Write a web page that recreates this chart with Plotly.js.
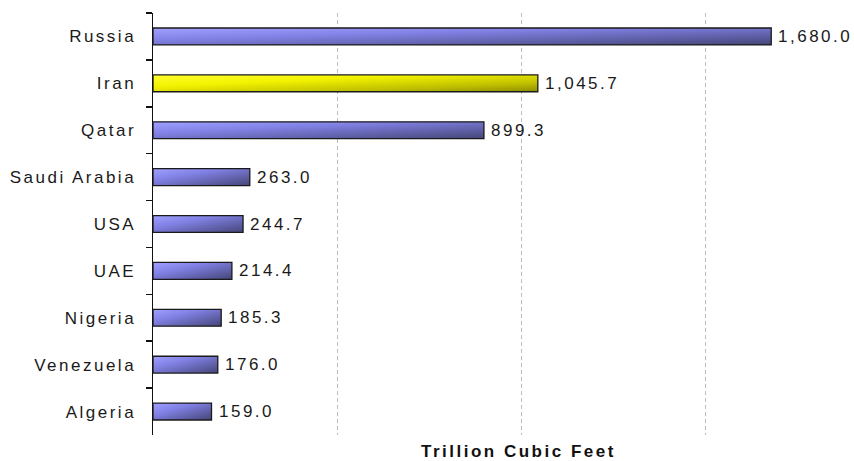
<!DOCTYPE html>
<html>
<head>
<meta charset="utf-8">
<script src="https://cdn.plot.ly/plotly-3.0.1.min.js"></script>
<style>
html,body{margin:0;padding:0;background:#fff;}
#chart{width:854px;height:461px;}
text{letter-spacing:2.5px;}
</style>
</head>
<body>
<div id="chart"></div>
<script>
// Data
const countries = ["Russia", "Iran", "Qatar", "Saudi Arabia", "USA", "UAE", "Nigeria", "Venezuela", "Algeria"];
const reserves = [1680.0, 1045.7, 899.3, 263.0, 244.7, 214.4, 185.3, 176.0, 159.0];
const highlight = "Iran";
const axisTitle = "Trillion Cubic Feet";

const FONT = "Liberation Sans, Arial, sans-serif";
const barWidth = 0.36;

const trace = {
  type: "bar",
  orientation: "h",
  x: reserves,
  y: countries,
  width: barWidth,
  marker: {
    color: countries.map(c => c === highlight ? "#e6e600" : "#7070d0"),
    line: {color: "#1a1a1a", width: 1.3}
  },
  showlegend: false,
  hoverinfo: "skip"
};

const valueLabels = countries.map((c, i) => ({
  x: reserves[i], y: c, xref: "x", yref: "y",
  text: reserves[i].toLocaleString("en-US", {minimumFractionDigits: 1, maximumFractionDigits: 1}),
  xanchor: "left", yanchor: "middle",
  xshift: 5, showarrow: false,
  font: {family: FONT, size: 17, color: "#1a1a1a"}
}));

const layout = {
  width: 854,
  height: 461,
  margin: {l: 153, r: 17, t: 13, b: 26},
  paper_bgcolor: "#ffffff",
  plot_bgcolor: "rgba(0,0,0,0)",
  font: {family: FONT, size: 17, color: "#1a1a1a"},
  xaxis: {
    range: [0, 1858.7],
    showticklabels: false,
    ticks: "",
    showline: false,
    zeroline: false,
    showgrid: true,
    gridcolor: "#bdbdbd",
    griddash: "4px,3px",
    gridwidth: 1,
    tickvals: [500, 1000, 1500]
  },
  yaxis: {
    autorange: "reversed",
    type: "category",
    showline: true,
    linecolor: "#111",
    linewidth: 1.5,
    ticks: "outside",
    tickson: "boundaries",
    ticklen: 6,
    tickwidth: 1.5,
    tickcolor: "#111",
    showgrid: false,
    zeroline: false,
    ticklabelstandoff: 12,
    tickfont: {family: FONT, size: 17, color: "#1a1a1a"}
  },
  annotations: valueLabels.concat([{
    text: "<b>" + axisTitle + "</b>",
    xref: "paper", yref: "paper",
    x: 0.535, y: 0,
    xanchor: "center", yanchor: "top",
    yshift: -5,
    showarrow: false,
    font: {family: FONT, size: 17, color: "#111"}
  }])
};

Plotly.newPlot("chart", [trace], layout, {displayModeBar: false, staticPlot: true}).then(gd => {
  // Apply diagonal gradient fills to the bars drawn by Plotly
  const svg = gd.querySelector("svg.main-svg");
  const NS = "http://www.w3.org/2000/svg";
  let defs = svg.querySelector("defs");
  if (!defs) { defs = document.createElementNS(NS, "defs"); svg.insertBefore(defs, svg.firstChild); }
  function grad(id, stops) {
    const g = document.createElementNS(NS, "linearGradient");
    g.setAttribute("id", id);
    g.setAttribute("x1", "0"); g.setAttribute("y1", "0");
    g.setAttribute("x2", "1"); g.setAttribute("y2", "1");
    stops.forEach(([o, c]) => {
      const s = document.createElementNS(NS, "stop");
      s.setAttribute("offset", o); s.setAttribute("stop-color", c);
      g.appendChild(s);
    });
    defs.appendChild(g);
  }
  grad("gBlue", [["0", "#a0a0ff"], ["0.35", "#8282e6"], ["0.75", "#5c5ca2"], ["1", "#454578"]]);
  grad("gYellow", [["0", "#ffff30"], ["0.35", "#f2f200"], ["0.75", "#bdbd00"], ["1", "#8c8c00"]]);
  const paths = gd.querySelectorAll(".barlayer .trace .point path");
  paths.forEach((p, i) => {
    p.style.fill = countries[i] === highlight ? "url(#gYellow)" : "url(#gBlue)";
  });
});
</script>
</body>
</html>
